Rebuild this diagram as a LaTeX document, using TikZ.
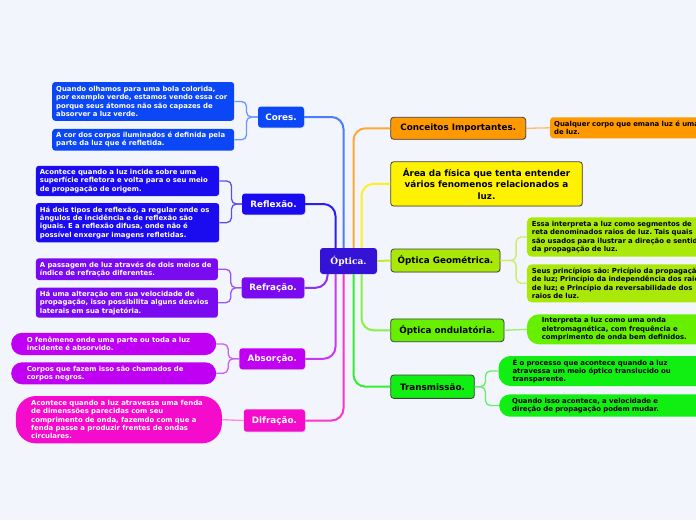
\documentclass[tikz,border=0pt]{standalone}
\usepackage{fontspec}
\setmainfont{DejaVu Sans}
\newfontfamily\serifb{DejaVu Serif}
\usetikzlibrary{shadows}
\frenchspacing
\definecolor{bg}{HTML}{F2F5FC}
\definecolor{cCentral}{HTML}{3412D6}
\definecolor{cCores}{HTML}{0B47F4}
\definecolor{cRefl}{HTML}{1B0BEF}
\definecolor{cRefr}{HTML}{7A0BF0}
\definecolor{cAbs}{HTML}{BF00F2}
\definecolor{cDif}{HTML}{F50BCB}
\definecolor{cConc}{HTML}{FF9900}
\definecolor{cArea}{HTML}{FFF200}
\definecolor{cGeo}{HTML}{AAE80A}
\definecolor{cOnd}{HTML}{66F000}
\definecolor{cTrans}{HTML}{11EE11}
\definecolor{lCores}{HTML}{4C7DFF}
\definecolor{lRefl}{HTML}{2B1EF0}
\definecolor{lRefr}{HTML}{8A33F0}
\definecolor{lAbs}{HTML}{C63BF2}
\definecolor{lDif}{HTML}{FF33CC}
\definecolor{lConc}{HTML}{FFA733}
\definecolor{lArea}{HTML}{FFEE22}
\definecolor{lGeo}{HTML}{BBEE33}
\definecolor{lOnd}{HTML}{88F044}
\definecolor{lTrans}{HTML}{33EE33}
\definecolor{bCores}{HTML}{6E95FF}
\definecolor{bRefl}{HTML}{5A4DF5}
\definecolor{bRefr}{HTML}{9B55F0}
\definecolor{bAbs}{HTML}{CE5CF2}
\definecolor{bDif}{HTML}{FF88DD}
\definecolor{bConc}{HTML}{FFBB66}
\definecolor{bGeo}{HTML}{CCEE66}
\definecolor{bOnd}{HTML}{99EE66}
\definecolor{bTrans}{HTML}{66EE66}
\newcommand\leaffont{\bfseries\fontsize{6.9}{8.3}\selectfont}
\newcommand\topicfont{\bfseries\fontsize{8.8}{11.5}\selectfont}
\begin{document}
\begin{tikzpicture}[x=1pt,y=-1pt,
  central/.style={fill=cCentral, rounded corners=3pt, text=white, inner sep=0pt,
    font=\serifb\bfseries\fontsize{9}{11}\selectfont},
  topicL/.style={rounded corners=3pt, text=white, inner sep=0pt, font=\topicfont,
    drop shadow={opacity=0.2, shadow xshift=0.8pt, shadow yshift=-0.8pt}},
  topicR/.style={draw=black!75, line width=0.8pt, rounded corners=3pt, text=black,
    inner sep=0pt, font=\topicfont,
    drop shadow={opacity=0.2, shadow xshift=0.8pt, shadow yshift=-0.8pt}},
  leafL/.style={anchor=west, align=left, text=white, inner ysep=0pt, font=\leaffont},
  leafR/.style={anchor=west, align=left, text=black, inner ysep=0pt, font=\leaffont},
  trunk/.style={line width=2pt, rounded corners=12pt},
  brack/.style={line width=1.3pt, rounded corners=5pt}]
\useasboundingbox (0,0) rectangle (696,520);
\fill[bg] (0,0) rectangle (696,520);
\clip (0,0) rectangle (696,520);

% central
\node[central, minimum width=57pt, minimum height=26pt] (O) at (348.5,261) {Óptica.};

% left topics
\node[topicL, fill=cCores, minimum width=46pt, minimum height=21pt] (cores) at (281,117) {Cores.};
\node[topicL, fill=cRefl, minimum width=63pt, minimum height=21pt] (refl) at (273.5,204) {Reflexão.};
\node[topicL, fill=cRefr, minimum width=62.6pt, minimum height=21pt] (refr) at (273,287.8) {Refração.};
\node[topicL, fill=cAbs, minimum width=65.7pt, minimum height=21pt] (abs) at (272.2,358.8) {Absorção.};
\node[topicL, fill=cDif, minimum width=61.3pt, minimum height=22.4pt] (dif) at (274.4,420.5) {Difração.};

% right topics
\node[topicR, fill=cConc, minimum width=135pt, minimum height=22pt] (conc) at (458.2,128.3) {Conceitos Importantes.};
\node[topicR, fill=cArea, minimum width=191.6pt, minimum height=44.3pt, align=center] (area) at (486.5,183.9) {Área da física que tenta entender\\vários fenomenos relacionados a\\luz.};
\node[topicR, fill=cGeo, minimum width=109pt, minimum height=23pt] (geo) at (445.5,260.5) {Óptica Geométrica.};
\node[topicR, fill=cOnd, minimum width=113.3pt, minimum height=22.7pt] (ond) at (447.3,330.3) {Óptica ondulatória.};
\node[topicR, fill=cTrans, minimum width=83.6pt, minimum height=23.3pt] (trans) at (432.5,386.7) {Transmissão.};

% left leaves
\node[leafL, fill=cCores, rounded corners=3pt, text width=174pt, inner xsep=4pt, minimum height=38.7pt] (c1) at (52,101.4)
  {\mbox{Quando olhamos para uma bola colorida,}\\\mbox{por exemplo verde, estamos vendo essa cor}\\\mbox{porque seus átomos não são capazes de}\\\mbox{absorver a luz verde.}};
\node[leafL, fill=cCores, rounded corners=3pt, text width=174pt, inner xsep=4pt, minimum height=21.7pt] (c2) at (52,139.8)
  {\mbox{A cor dos corpos iluminados é definida pela}\\\mbox{parte da luz que é refletida.}};
\node[leafL, fill=cRefl, rounded corners=3pt, text width=175.3pt, inner xsep=4pt, minimum height=30.3pt] (r1) at (35.7,180.9)
  {\mbox{Acontece quando a luz incide sobre uma}\\\mbox{superfície refletora e volta para o seu meio}\\\mbox{de propagação de origem.}};
\node[leafL, fill=cRefl, rounded corners=3pt, text width=175.3pt, inner xsep=4pt, minimum height=39.3pt] (r2) at (35.7,222.7)
  {\mbox{Há dois tipos de reflexão, a regular onde os}\\\mbox{ângulos de incidência e de reflexão são}\\\mbox{iguais. E a reflexão difusa, onde não é}\\\mbox{possível enxergar imagens refletidas.}};
\node[leafL, fill=cRefr, rounded corners=3pt, text width=174pt, inner xsep=4pt, minimum height=21.7pt] (f1) at (35.7,269.2)
  {\mbox{A passagem de luz através de dois meios de}\\\mbox{índice de refração diferentes.}};
\node[leafL, fill=cRefr, rounded corners=3pt, text width=174pt, inner xsep=4pt, minimum height=30pt] (f2) at (35.7,302.7)
  {\mbox{Há uma alteração em sua velocidade de}\\\mbox{propagação, isso possibilita alguns desvios}\\\mbox{laterais em sua trajetória.}};
\node[leafL, fill=cAbs, rounded corners=11pt, text width=173.6pt, inner xsep=15.7pt, minimum height=22.3pt] (a1) at (11,343.9)
  {\mbox{O fenômeno onde uma parte ou toda a luz}\\\mbox{incidente é absorvido.}};
\node[leafL, fill=cAbs, rounded corners=11pt, text width=173.6pt, inner xsep=15.7pt, minimum height=22pt] (a2) at (11,373.3)
  {\mbox{Corpos que fazem isso são chamados de}\\\mbox{corpos negros.}};
\node[leafL, fill=cDif, rounded corners=20pt, text width=175.4pt, inner xsep=15.3pt, minimum height=47.3pt] (d1) at (15.7,419.7)
  {\mbox{Acontece quando a luz atravessa uma fenda}\\\mbox{de dimenssões parecidas com seu}\\\mbox{comprimento de onda, fazemdo com que a}\\\mbox{fenda passe a produzir frentes de ondas}\\\mbox{circulares.}};

% right leaves
\node[leafR, fill=cConc, rounded corners=3pt, text width=250pt, inner xsep=4pt, minimum height=21pt] (k1) at (550,127.8)
  {\mbox{Qualquer corpo que emana luz é uma fonte}\\\mbox{de luz.}};
\node[leafR, fill=cGeo, rounded corners=5pt, text width=250pt, inner xsep=5pt, minimum height=39.4pt] (g1) at (526.7,237)
  {\mbox{Essa interpreta a luz como segmentos de}\\\mbox{reta denominados raios de luz. Tais quais}\\\mbox{são usados para ilustrar a direção e sentido}\\\mbox{da propagação de luz.}};
\node[leafR, fill=cGeo, rounded corners=5pt, text width=250pt, inner xsep=5pt, minimum height=38pt] (g2) at (526.7,283.3)
  {\mbox{Seus princípios são: Pricípio da propagação}\\\mbox{de luz; Princípio da independência dos raios}\\\mbox{de luz; e Princípio da reversabilidade dos}\\\mbox{raios de luz.}};
\node[leafR, fill=cOnd, rounded corners=12pt, text width=250pt, inner xsep=15pt, minimum height=30pt] (o1) at (526.7,329.3)
  {\mbox{Interpreta a luz como uma onda}\\\mbox{eletromagnética, com frequência e}\\\mbox{comprimento de onda bem definidos.}};
\node[leafR, fill=cTrans, rounded corners=12pt, text width=250pt, inner xsep=14pt, minimum height=30pt] (t1) at (498.3,371)
  {\mbox{É o processo que acontece quando a luz}\\\mbox{atravessa um meio óptico translucido ou}\\\mbox{transparente.}};
\node[leafR, fill=cTrans, rounded corners=11pt, text width=250pt, inner xsep=13pt, minimum height=22.4pt] (t2) at (499,405.5)
  {\mbox{Quando isso acontece, a velocidade e}\\\mbox{direção de propagação podem mudar.}};

% trunks
\draw[trunk, lCores] ([xshift=-5pt]O.north) |- (cores.east);
\draw[trunk, lRefl] ([xshift=-13pt]O.north) |- (refl.east);
\draw[trunk, lConc] ([xshift=5pt]O.north) |- (conc.west);
\draw[trunk, lArea] ([xshift=13pt]O.north) |- (area.west);
\draw[trunk, lRefr] ([xshift=-21pt]O.south) |- (refr.east);
\draw[trunk, lAbs] ([xshift=-13pt]O.south) |- (abs.east);
\draw[trunk, lDif] ([xshift=-5pt]O.south) |- (dif.east);
\draw[trunk, lTrans] ([xshift=5pt]O.south) |- (trans.west);
\draw[trunk, lOnd] ([xshift=13pt]O.south) |- (ond.west);
\draw[trunk, lGeo] (O.east) -- (geo.west);

% brackets
\draw[brack, bCores] (cores.west) -- ++(-11.3,0) |- (c1.east);
\draw[brack, bCores] (cores.west) -- ++(-11.3,0) |- (c2.east);
\draw[brack, bRefl] (refl.west) -- ++(-10.3,0) |- (r1.east);
\draw[brack, bRefl] (refl.west) -- ++(-10.3,0) |- (r2.east);
\draw[brack, bRefr] (refr.west) -- ++(-10.7,0) |- (f1.east);
\draw[brack, bRefr] (refr.west) -- ++(-10.7,0) |- (f2.east);
\draw[brack, bAbs] (abs.west) -- ++(-11,0) |- (a1.east);
\draw[brack, bAbs] (abs.west) -- ++(-11,0) |- (a2.east);
\draw[brack, bDif] (dif.west) -- (d1.east);
\draw[brack, bConc] (conc.east) -- (k1.west);
\draw[brack, bGeo] (geo.east) -- ++(15.7,0) |- (g1.west);
\draw[brack, bGeo] (geo.east) -- ++(15.7,0) |- (g2.west);
\draw[brack, bOnd] (ond.east) -- (o1.west);
\draw[brack, bTrans] (trans.east) -- ++(10.7,0) |- (t1.west);
\draw[brack, bTrans] (trans.east) -- ++(10.7,0) |- (t2.west);
\end{tikzpicture}
\end{document}
